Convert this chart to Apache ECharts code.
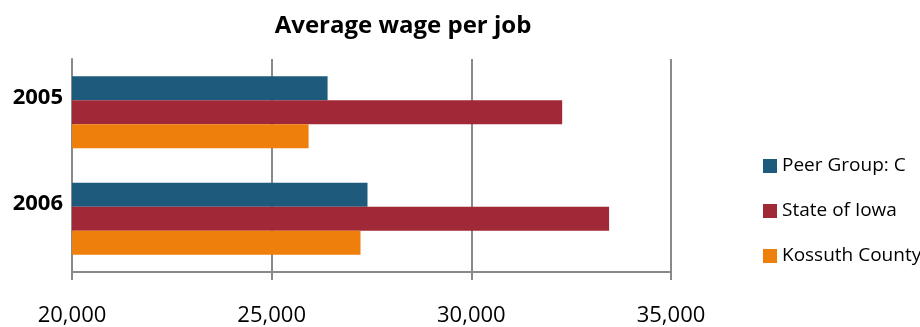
<!DOCTYPE html>
<html>
<head>
<meta charset="utf-8">
<script src="https://cdn.jsdelivr.net/npm/echarts@6/dist/echarts.min.js"></script>
<style>
  html, body { margin: 0; padding: 0; background: #ffffff; }
  #chart { width: 920px; height: 327px; }
</style>
</head>
<body>
<div id="chart"></div>
<script>
// Average wage per job, in dollars
const years = ['2005', '2006'];
const peerGroup = [26400, 27400];
const stateOfIowa = [32275, 33450];
const kossuthCounty = [25925, 27225];
const xTicks = [20000, 25000, 30000, 35000];

const seriesNames = ['Peer Group: C', 'State of Iowa', 'Kossuth County'];
const seriesColors = ['#1E5A7C', '#A12837', '#EF7F0B'];
const seriesValues = [peerGroup, stateOfIowa, kossuthCounty];

const fontFamily = '"Open Sans", "Liberation Sans", sans-serif';
const axisGray = '#898989';

const chart = echarts.init(document.getElementById('chart'), null, { renderer: 'canvas' });

chart.setOption({
  animation: false,
  backgroundColor: '#ffffff',
  title: {
    text: 'Average wage per job',
    left: 398,
    top: 9,
    textAlign: 'center',
    textStyle: { fontFamily, fontSize: 24, fontWeight: 'bold', color: '#000000' }
  },
  legend: {
    orient: 'vertical',
    left: 763,
    top: 156,
    padding: 0,
    itemWidth: 14,
    itemHeight: 14,
    itemGap: 25,
    icon: 'rect',
    textStyle: { fontFamily, fontSize: 19, color: '#000000', lineHeight: 20 },
    data: seriesNames
  },
  grid: { left: 72, right: 249, top: 59, bottom: 54, containLabel: false },
  xAxis: {
    type: 'value',
    min: xTicks[0],
    max: xTicks[xTicks.length - 1],
    interval: xTicks[1] - xTicks[0],
    axisLine: { show: true, lineStyle: { color: axisGray, width: 2 } },
    axisTick: { show: true, length: 8, lineStyle: { color: axisGray, width: 2 } },
    splitLine: { show: true, lineStyle: { color: axisGray, width: 2 } },
    axisLabel: {
      margin: 33,
      fontFamily,
      fontSize: 22,
      color: '#000000',
      formatter: v => v.toLocaleString('en-US')
    }
  },
  yAxis: {
    type: 'category',
    inverse: true,
    data: years,
    axisLine: { show: true, lineStyle: { color: axisGray, width: 2 } },
    axisTick: { show: false },
    splitLine: { show: false },
    axisLabel: {
      margin: 9,
      fontFamily,
      fontSize: 22,
      fontWeight: 'bold',
      color: '#000000',
      lineHeight: 30,
      // a trailing empty line lifts each year label above its group's centre
      formatter: v => v + '\n'
    }
  },
  series: seriesNames.map((name, i) => ({
    name,
    type: 'bar',
    data: seriesValues[i],
    barWidth: 24,
    barGap: '0%',
    itemStyle: { color: seriesColors[i] }
  }))
});
</script>
</body>
</html>
